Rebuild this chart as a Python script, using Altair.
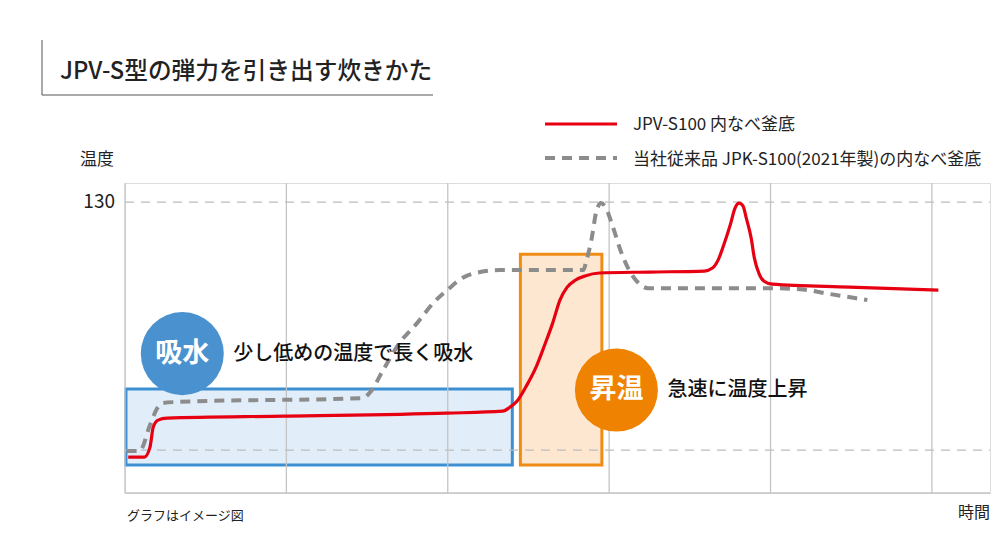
import altair as alt
import pandas as pd

# ---------------- data ----------------
red_t = [0.2, 1.2, 1.55, 1.75, 2.05, 2.6, 9.9, 19.95, 23.4, 23.85, 24.3, 24.9, 25.5, 26.0,
         26.5, 26.95, 27.4, 27.9, 28.5, 29.4, 32.5, 35.9, 36.4, 36.75, 37.1, 37.5, 37.8,
         38.05, 38.3, 38.5, 38.8, 39.0, 39.3, 39.6, 40.1, 44.9, 50.4]
red_temp = [27.2, 27.2, 31.2, 39.3, 42.1, 42.9, 43.7, 44.9, 45.7, 47.3, 49.8, 56.2, 63.9, 72.3,
            81.2, 90.5, 95.7, 98.5, 100.2, 101.4, 101.8, 102.2, 103.4, 106.6, 112.7, 120.7, 127.6,
            129.6, 128.4, 123.5, 115.5, 107.4, 101.0, 98.1, 96.9, 95.7, 94.5]

gray_t = [0.1, 0.9, 1.55, 2.0, 2.35, 3.2, 14.75, 15.2, 16.0, 17.0, 18.1, 19.1, 20.1, 20.9,
          22.0, 23.2, 28.4, 28.6, 28.9, 29.2, 29.5, 29.8, 30.2, 30.7, 31.3, 31.9, 32.4,
          39.8, 41.8, 43.7, 46.0]
gray_temp = [29.6, 29.6, 40.1, 46.9, 49.0, 49.4, 51.0, 53.4, 62.3, 73.1, 81.2, 89.3, 95.3, 99.4,
             101.8, 102.6, 102.6, 106.6, 114.7, 126.0, 129.6, 127.6, 120.7, 110.6, 101.8, 96.9, 95.3,
             95.3, 94.9, 92.9, 90.5]

grid_t = [0, 10, 20, 30, 40, 50]
grid_temp = [30, 130]

box_names = ["吸水", "昇温"]
box_t0 = [0.06, 24.5]
box_t1 = [24.0, 29.55]
box_lo = [24.0, 24.0]
box_hi = [54.6, 109.0]

badge_t = [3.55, 30.45]
badge_temp = [68.9, 54.2]
badge_desc = ["少し低めの温度で長く吸水", "急速に温度上昇"]

legend_labels = ["JPV-S100 内なべ釜底", "当社従来品 JPK-S100(2021年製)の内なべ釜底"]
title_text = "JPV-S型の弾力を引き出す炊きかた"
y_title = "温度"
x_title = "時間"
note_text = "グラフはイメージ図"

# ---------------- setup ----------------
W, H = 865, 310
FONT = "Noto Sans CJK JP"
xs = alt.Scale(domain=[0, 53.6], nice=False, zero=False)
ys = alt.Scale(domain=[12.7, 137.7], nice=False, zero=False)

red_df = pd.DataFrame({"t": red_t, "temp": red_temp})
gray_df = pd.DataFrame({"t": gray_t, "temp": gray_temp})
vgrid_df = pd.DataFrame({"t": grid_t})
hgrid_df = pd.DataFrame({"temp": grid_temp})
box_df = pd.DataFrame({"name": box_names, "t0": box_t0, "t1": box_t1, "lo": box_lo, "hi": box_hi})
badge_df = pd.DataFrame({"name": box_names, "t": badge_t, "temp": badge_temp, "desc": badge_desc})

X = lambda f: alt.X(f, type="quantitative", scale=xs, axis=None)
Y = lambda f: alt.Y(f, type="quantitative", scale=ys, axis=None)

vgrid = alt.Chart(vgrid_df).mark_rule(color="#c4c4c4", strokeWidth=1.3).encode(
    x=X("t"), y=alt.value(0), y2=alt.value(H))
hgrid = alt.Chart(hgrid_df).mark_rule(color="#bdbdbd", strokeWidth=1.2, strokeDash=[9, 7]).encode(
    y=Y("temp"), x=alt.value(0), x2=alt.value(W))
xline = alt.Chart(hgrid_df.head(1)).mark_rule(color="#c4c4c4", strokeWidth=1.3).encode(
    y=alt.value(H), x=alt.value(0), x2=alt.value(W))
ylab = alt.Chart(hgrid_df[hgrid_df.temp == 130]).mark_text(
    font=FONT, fontSize=19, align="right", baseline="middle", color="#222").encode(
    y=Y("temp"), x=alt.value(-10), text=alt.Text("temp:Q"))

box_colors = alt.Scale(domain=box_names, range=["#c8e0f4", "#fbd3aa"])
box_strokes = alt.Scale(domain=box_names, range=["#3d8fd1", "#f08c14"])
boxes = alt.Chart(box_df).mark_rect(strokeWidth=3, fillOpacity=0.55).encode(
    x=X("t0"), x2="t1", y=Y("lo"), y2="hi",
    fill=alt.Fill("name:N", scale=box_colors, legend=None),
    stroke=alt.Stroke("name:N", scale=box_strokes, legend=None))

gray_line = alt.Chart(gray_df).mark_line(
    color="#8c8c8c", strokeWidth=4, strokeDash=[10, 7], interpolate="monotone").encode(
    x=X("t"), y=Y("temp"))
red_line = alt.Chart(red_df).mark_line(
    color="#e60012", strokeWidth=3.2, interpolate="monotone").encode(
    x=X("t"), y=Y("temp"))

badge_colors = alt.Scale(domain=box_names, range=["#4a92cf", "#ef8200"])
badges = alt.Chart(badge_df).mark_circle(size=6889, opacity=1).encode(
    x=X("t"), y=Y("temp"), color=alt.Color("name:N", scale=badge_colors, legend=None))
badge_txt = alt.Chart(badge_df).mark_text(
    font=FONT, fontSize=27, fontWeight="bold", color="white", align="center", baseline="middle").encode(
    x=X("t"), y=Y("temp"), text="name:N")
desc_txt = alt.Chart(badge_df).mark_text(
    font=FONT, fontSize=20, fontWeight=500, color="#111", align="left", baseline="middle",
    dx=51).encode(x=X("t"), y=Y("temp"), text="desc:N")

# legend
leg_red = alt.Chart(red_df.head(1)).mark_rule(color="#e60012", strokeWidth=3.2).encode(
    x=alt.value(420), x2=alt.value(492), y=alt.value(-59))
leg_gray = alt.Chart(red_df.head(1)).mark_rule(color="#8c8c8c", strokeWidth=4, strokeDash=[10, 7]).encode(
    x=alt.value(420), x2=alt.value(492), y=alt.value(-25))


def label(txt, x, y, size, align="left", weight="normal"):
    return alt.Chart(pd.DataFrame({"s": [txt]})).mark_text(
        font=FONT, fontSize=size, color="#222", align=align, baseline="middle", fontWeight=weight).encode(
        x=alt.value(x), y=alt.value(y), text="s:N")


leg_txt1 = label(legend_labels[0], 508, -58, 17)
leg_txt2 = label(legend_labels[1], 508, -23, 17)

title = label(title_text, -65, -111, 23.7, weight=500)
ytitle = label(y_title, -45, -23, 17)
xtitle = label(x_title, W, 330, 16, align="right")
note = label(note_text, 2, 333, 13)

title_v = alt.Chart(red_df.head(1)).mark_rule(color="#555", strokeWidth=1).encode(
    x=alt.value(-83), y=alt.value(-143), y2=alt.value(-88))
title_h = alt.Chart(red_df.head(1)).mark_rule(color="#555", strokeWidth=1).encode(
    x=alt.value(-83), x2=alt.value(308), y=alt.value(-88))

chart = alt.layer(
    boxes, vgrid, hgrid, xline, ylab, gray_line, red_line, badges, badge_txt, desc_txt,
    leg_red, leg_gray, leg_txt1, leg_txt2, title, ytitle, xtitle, note, title_v, title_h
).properties(
    width=W, height=H,
    autosize=alt.AutoSizeParams(type="none"),
    padding={"left": 117, "top": 175, "right": 2, "bottom": 50},
).configure_view(stroke=None).configure(background="white")

chart.save("out.html", embed_options={"renderer": "svg", "actions": False})
